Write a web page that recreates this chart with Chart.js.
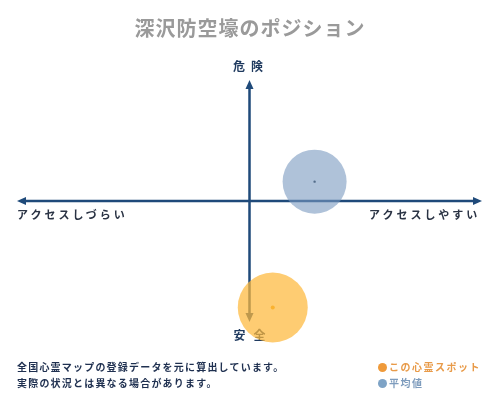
<!DOCTYPE html>
<html>
<head>
    <meta charset="utf-8">
    <title>深沢防空壕のポジション</title>
    <script src="https://cdn.jsdelivr.net/npm/chart.js"></script>
    <style>
        body {
            margin: 0;
            padding: 0;
            background: #fff;
            font-family: "Noto Sans CJK JP", sans-serif;
        }
        #wrap {
            position: relative;
            width: 500px;
            height: 400px;
            overflow: hidden;
        }
        #wrap canvas { position: absolute; left: 0; top: 0; }
        .txt { position: absolute; white-space: nowrap; line-height: 1; }
        #title {
            left: 0; width: 500px; top: 18px; text-align: center;
            font-size: 20px; font-weight: bold; color: #9a9a9a; letter-spacing: 1px;
        }
        .axis { font-size: 12px; font-weight: bold; color: #1f3a5f; }
        .side { font-size: 11px; font-weight: bold; color: #2a3344; letter-spacing: 3px; }
        .note { font-size: 10px; font-weight: bold; color: #1f3050; letter-spacing: 1.2px; left: 17px; }
        .leg { font-size: 10px; font-weight: bold; left: 378px; letter-spacing: 1.5px; }
        .dot { display: inline-block; width: 9px; height: 9px; border-radius: 50%; margin-right: 2px; vertical-align: -1px; }
    </style>
</head>
<body>
<div id="wrap">
    <canvas id="chart" width="500" height="400"></canvas>
    <div class="txt" id="title">深沢防空壕のポジション</div>
    <div class="txt axis" style="left:233px; top:60px; letter-spacing:6px;">危険</div>
    <div class="txt side" style="left:17px; top:209px;">アクセスしづらい</div>
    <div class="txt side" style="left:369px; top:209px;">アクセスしやすい</div>
    <div class="txt note" style="top:362px;">全国心霊マップの登録データを元に算出しています。</div>
    <div class="txt note" style="top:378px;">実際の状況とは異なる場合があります。</div>
    <div class="txt leg" style="top:362px; color:#e89a48;"><span class="dot" style="background:#ef9a3a"></span>この心霊スポット</div>
    <div class="txt leg" style="top:378px; color:#7e9cbd;"><span class="dot" style="background:#7ea3c6"></span>平均値</div>
</div>
<script>
    // 位置データ (-100..100)
    const labels = ['この心霊スポット', '平均値'];
    const accessValues = [10, 28];     // 横軸: アクセスしやすさ
    const dangerValues = [-88, 16];    // 縦軸: 危険度

    const points = i => [{ x: accessValues[i], y: dangerValues[i] }];

    // axes with arrows, drawn under the bubbles
    const axesPlugin = {
        id: 'axes',
        beforeDatasetsDraw(chart) {
            const { ctx, chartArea: a, scales: { x, y } } = chart;
            const cx = x.getPixelForValue(0);
            const cy = y.getPixelForValue(0);
            ctx.save();
            ctx.strokeStyle = '#1f4a7a';
            ctx.fillStyle = '#1f4a7a';
            ctx.lineWidth = 2.5;
            ctx.beginPath();
            ctx.moveTo(a.left + 4, cy); ctx.lineTo(a.right - 4, cy);
            ctx.moveTo(cx, a.top + 4); ctx.lineTo(cx, a.bottom - 4);
            ctx.stroke();
            const head = (x0, y0, dx, dy) => {
                ctx.beginPath();
                ctx.moveTo(x0, y0);
                ctx.lineTo(x0 - dx * 9 - dy * 4, y0 - dy * 9 - dx * 4);
                ctx.lineTo(x0 - dx * 9 + dy * 4, y0 - dy * 9 + dx * 4);
                ctx.closePath();
                ctx.fill();
            };
            head(a.right, cy, 1, 0);
            head(a.left, cy, -1, 0);
            head(cx, a.top, 0, -1);
            head(cx, a.bottom, 0, 1);
            // 安全 label sits under the orange bubble
            ctx.font = 'bold 12px "Noto Sans CJK JP"';
            ctx.fillStyle = '#1f3a5f';
            ctx.textBaseline = 'middle';
            ctx.fillText('安', cx - 16, a.bottom + 13);
            ctx.fillText('全', cx + 4, a.bottom + 13);
            ctx.restore();
        }
    };

    window.onload = function() {
        const ctx = document.getElementById('chart').getContext('2d');
        new Chart(ctx, {
            type: 'bubble',
            data: {
                datasets: [
                    {
                        label: labels[1],
                        data: points(1),
                        radius: 32,
                        backgroundColor: 'rgba(122,154,192,0.6)',
                        borderWidth: 0,
                        clip: false
                    },
                    {
                        label: labels[0],
                        data: points(0),
                        radius: 35,
                        backgroundColor: 'rgba(253,185,60,0.72)',
                        borderWidth: 0,
                        clip: false
                    },
                    {
                        label: labels[1] + ' center',
                        data: points(1),
                        radius: 1.2,
                        backgroundColor: '#1a2a3a',
                        borderWidth: 0,
                        clip: false
                    },
                    {
                        label: labels[0] + ' center',
                        data: points(0),
                        radius: 2,
                        backgroundColor: '#f0a010',
                        borderWidth: 0,
                        clip: false
                    }
                ]
            },
            options: {
                responsive: false,
                animation: false,
                layout: { autoPadding: false, padding: { left: 17, right: 18, top: 80, bottom: 78 } },
                plugins: {
                    legend: { display: false },
                    tooltip: { enabled: false }
                },
                scales: {
                    x: { display: false, min: -100, max: 100 },
                    y: { display: false, min: -100, max: 100 }
                }
            },
            plugins: [axesPlugin]
        });
    };
</script>
</body>
</html>
